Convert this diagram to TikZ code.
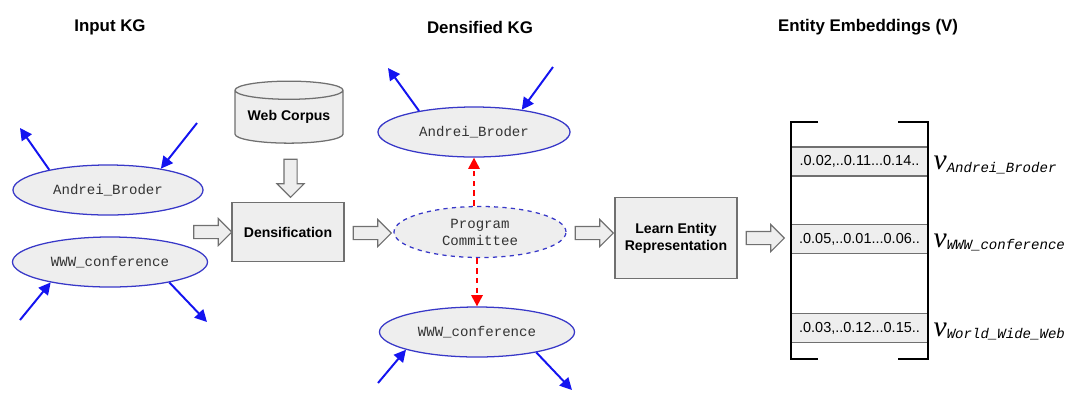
\documentclass[tikz,border=0pt]{standalone}
\usepackage{fontspec}
\setmainfont{Liberation Sans}
\newfontfamily\kgmono{Liberation Mono}
\newfontfamily\kgserif{Liberation Serif}
\usepackage{xcolor}
\usetikzlibrary{shapes.geometric,shapes.arrows,arrows.meta}
\definecolor{kg_blue}{HTML}{3838C8}
\definecolor{edge_blue}{HTML}{1414F0}
\definecolor{box_fill}{HTML}{EEEEEE}
\definecolor{box_line}{HTML}{707070}
\definecolor{text_gray}{HTML}{333333}

\tikzset{
  title/.style={font=\bfseries\fontsize{12}{14}\selectfont},
  entity/.style={ellipse,draw=kg_blue,line width=0.9pt,fill=box_fill,inner sep=0pt,
       minimum width=4.8cm,minimum height=1.25cm,
       font=\kgmono\fontsize{10}{12}\selectfont,text=text_gray,align=center},
  stepbox/.style={draw=box_line,line width=0.9pt,fill=box_fill,inner sep=0pt,
       font=\bfseries\fontsize{10}{12}\selectfont,align=center},
  blockarrow/.style={single arrow,draw=box_line,fill=box_fill,line width=0.8pt,
       inner sep=0.15cm,minimum height=0.95cm,single arrow head extend=0.175cm,
       single arrow head indent=0pt},
  edge/.style={-{Triangle[length=8.5pt,width=8.5pt]},line width=1.4pt,edge_blue},
  link/.style={-{Triangle[length=8pt,width=8pt]},line width=1.6pt,red,
       dash pattern=on 4pt off 3pt},
  row/.style={draw=box_line,fill=box_fill,line width=0.8pt,inner sep=0pt,
       minimum width=3.425cm,minimum height=0.725cm,font=\fontsize{10.3}{12}\selectfont},
  bracket/.style={line width=1.8pt,black},
}

\begin{document}
\begin{tikzpicture}[x=0.025cm,y=-0.025cm]
    \useasboundingbox (0,0) rectangle (1080,404);

    \node[title] (t_in) at (110,27) {Input KG};
    \node[title] (t_dense) at (480,27) {Densified KG};
    \node[title] (t_emb) at (868,27) {Entity Embeddings (V)};

    % input KG
    \node[entity,minimum width=4.75cm] (in_ab) at (108,190) {Andrei\_Broder};
    \node[entity,minimum width=4.875cm] (in_www) at (110,262) {WWW\_conference};
    \coordinate (in_ab_out) at (20,128);
    \coordinate (in_ab_in) at (197,123);
    \coordinate (in_www_in) at (20,320);
    \coordinate (in_www_out) at (207,322);
    \draw[edge] (in_ab.161) -- (in_ab_out);
    \draw[edge] (in_ab_in) -- (in_ab.22);
    \draw[edge] (in_www_in) -- (in_www.199);
    \draw[edge] (in_www.341) -- (in_www_out);

    % densification
    \node[cylinder,shape border rotate=90,aspect=0.22,draw=box_line,line width=0.9pt,
          fill=box_fill,minimum width=2.7cm,minimum height=1.55cm,inner sep=0pt,
          font=\bfseries\fontsize{10}{12}\selectfont] (corpus) at (289,117) {Web Corpus};
    \node[stepbox,minimum width=2.8cm,minimum height=1.475cm] (dens) at (288,232) {Densification};
    \node[blockarrow] (a_in) at (209.5,232) {};
    \node[blockarrow,shape border rotate=270] (a_corpus) at (290.5,175) {};
    \node[blockarrow] (a_dens) at (369,233) {};

    % densified KG
    \node[entity] (d_ab) at (474,132) {Andrei\_Broder};
    \node[entity,dashed,minimum width=4.3cm,minimum height=1.275cm] (d_pc) at (480,232) {Program\\Committee};
    \node[entity,minimum width=4.875cm] (d_www) at (477,332) {WWW\_conference};
    \coordinate (d_ab_out) at (388,68);
    \coordinate (d_ab_in) at (553,67);
    \coordinate (d_www_in) at (378,383);
    \coordinate (d_www_out) at (572,390);
    \draw[edge] (d_ab.159) -- (d_ab_out);
    \draw[edge] (d_ab_in) -- (d_ab.25);
    \draw[edge] (d_www_in) -- (d_www.194);
    \draw[edge] (d_www.341) -- (d_www_out);
    \draw[link] (d_pc.north -| d_ab.south) -- (d_ab.south);
    \draw[link] (d_pc.south -| d_www.north) -- (d_www.north);

    % learning
    \node[blockarrow] (a_pc) at (591,233) {};
    \node[stepbox,minimum width=3.05cm,minimum height=2.025cm] (learn) at (676,238) {Learn Entity\\Representation};
    \node[blockarrow] (a_learn) at (762,238) {};

    % embeddings
    \node[row] (r_ab) at (859.5,161.5) {.0.02,..0.11...0.14..};
    \node[row] (r_www) at (859.5,239) {.0.05,..0.01...0.06..};
    \node[row] (r_wwweb) at (859.5,328) {.0.03,..0.12...0.15..};
    \draw[bracket] (818,122) -- (791,122) -- (791,359) -- (818,359);
    \draw[bracket] (898,122) -- (928,122) -- (928,359) -- (898,359);
    \node[anchor=base west,inner sep=0pt] (v_ab) at ([xshift=0.12cm,yshift=-0.2cm]r_ab.east)
        {{\kgserif\itshape\fontsize{21}{21}\selectfont v}{\kgmono\itshape\fontsize{10}{12}\selectfont\raisebox{-0.4ex}{Andrei\_Broder}}};
    \node[anchor=base west,inner sep=0pt] (v_www) at ([xshift=0.12cm,yshift=-0.2cm]r_www.east)
        {{\kgserif\itshape\fontsize{21}{21}\selectfont v}{\kgmono\itshape\fontsize{10}{12}\selectfont\raisebox{-0.4ex}{WWW\_conference}}};
    \node[anchor=base west,inner sep=0pt] (v_wwweb) at ([xshift=0.12cm,yshift=-0.2cm]r_wwweb.east)
        {{\kgserif\itshape\fontsize{21}{21}\selectfont v}{\kgmono\itshape\fontsize{10}{12}\selectfont\raisebox{-0.4ex}{World\_Wide\_Web}}};
\end{tikzpicture}
\end{document}
